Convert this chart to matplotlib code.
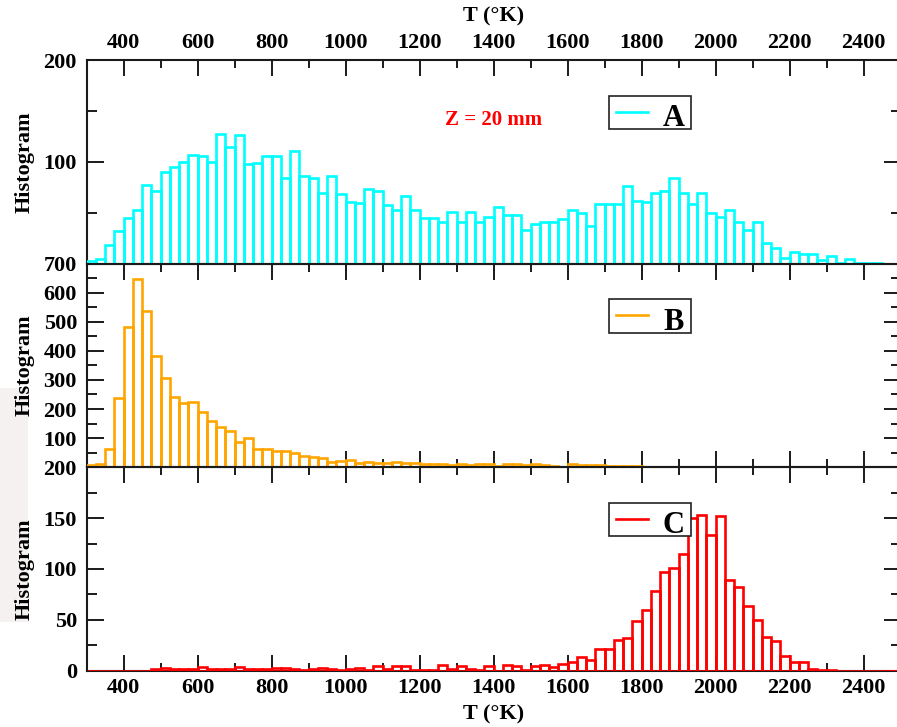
import numpy as np
import matplotlib
matplotlib.use("Agg")
import matplotlib.pyplot as plt
from matplotlib.ticker import MultipleLocator
from matplotlib.patches import Rectangle
from matplotlib.lines import Line2D

# Temperature bins (left edges, K), bin width 25 K
bin_width = 25
bin_left = np.arange(300, 2500, bin_width)

hist_a = [3, 5, 18, 32, 45, 53, 77, 71, 90, 95,
          100, 107, 106, 100, 127, 115, 126, 98, 99, 106,
          106, 84, 111, 86, 84, 69, 86, 68, 61, 60,
          73, 71, 58, 53, 66, 53, 45, 45, 41, 51,
          41, 51, 41, 46, 56, 48, 48, 33, 39, 41,
          41, 44, 53, 50, 37, 59, 59, 59, 76, 62,
          61, 69, 71, 84, 69, 59, 69, 50, 46, 53,
          41, 33, 41, 20, 15, 6, 11, 9, 9, 4,
          7, 1, 5, 1, 1, 1, 0, 0]

hist_b = [8, 10, 63, 239, 483, 648, 537, 381, 305, 241,
          222, 225, 191, 160, 137, 123, 85, 100, 63, 62,
          55, 57, 48, 39, 35, 31, 19, 22, 25, 16,
          18, 16, 16, 19, 14, 14, 10, 10, 10, 8,
          10, 6, 12, 12, 5, 12, 12, 6, 12, 6,
          3, 2, 12, 8, 8, 6, 3, 3, 3, 3,
          2, 1, 1, 1, 1, 1, 1, 0, 0, 0,
          0, 0, 0, 0, 0, 0, 0, 0, 0, 0,
          0, 0, 0, 0, 0, 0, 0, 0]

hist_c = [0, 0, 0, 0, 0, 0, 0, 2, 3, 2,
          2, 2, 4, 2, 2, 2, 4, 2, 2, 2,
          3, 3, 2, 1, 2, 3, 2, 1, 2, 3,
          1, 5, 2, 5, 5, 1, 1, 1, 6, 2,
          5, 2, 1, 5, 0, 6, 5, 1, 5, 6,
          4, 7, 9, 13, 11, 21, 21, 30, 32, 49,
          60, 78, 97, 101, 115, 150, 153, 133, 152, 89,
          82, 64, 50, 33, 29, 14, 9, 9, 2, 1,
          1, 0, 0, 0, 0, 0, 0, 0]

series_names = ["A", "B", "C"]
series_colors = ["#00FFFF", "#FFA500", "#FF0000"]
y_limits = [200, 700, 200]
y_major = [100, 100, 50]
y_minor = [50, 50, 25]

x_min, x_max = 300, 2500
annotation = "Z = 20 mm"
x_label = "T (°K)"
y_label = "Histogram"

plt.rcParams["font.family"] = ["Liberation Serif", "DejaVu Serif"]
plt.rcParams["font.weight"] = "bold"

W, H = 897, 727
fig = plt.figure(figsize=(W / 100, H / 100), dpi=100)

# faint grey strip along the left margin
fig.patches.append(Rectangle((0, 1 - 622 / H), 28 / W, (622 - 388) / H,
                             transform=fig.transFigure, facecolor="#f5f1f1",
                             edgecolor="none", zorder=0))

ax_left = 86.7 / W
ax_width = (900.7 - 86.7) / W
panel_h = 0.2800
bottoms = [0.6374, 0.3574, 0.0774]

spine_color = "#1a1a1a"
axes = []
for i, (vals, name, color) in enumerate(zip([hist_a, hist_b, hist_c],
                                            series_names, series_colors)):
    ax = fig.add_axes([ax_left, bottoms[i], ax_width, panel_h])
    axes.append(ax)
    ax.patch.set_alpha(0)
    ax.bar(bin_left, vals, width=bin_width, align="edge",
           facecolor="none", edgecolor=color, linewidth=1.9, zorder=3.5)
    ax.set_xlim(x_min, x_max)
    ax.set_ylim(0, y_limits[i])

    for sp in ax.spines.values():
        sp.set_linewidth(1.5)
        sp.set_color(spine_color)
        sp.set_zorder(3)

    ax.xaxis.set_major_locator(MultipleLocator(200))
    ax.xaxis.set_minor_locator(MultipleLocator(100))
    ax.yaxis.set_major_locator(MultipleLocator(y_major[i]))
    ax.yaxis.set_minor_locator(MultipleLocator(y_minor[i]))

    ax.tick_params(axis="both", which="both", direction="in",
                   top=True, right=True, bottom=True, left=True,
                   width=1.4, color=spine_color, labelsize=16)
    ax.tick_params(axis="x", which="major", length=11.5)
    ax.tick_params(axis="x", which="minor", length=5.8)
    ax.tick_params(axis="y", which="major", length=12, pad=7)
    ax.tick_params(axis="y", which="minor", length=7)

    yt = np.arange(0, y_limits[i] + 1, y_major[i])
    labels = [str(int(v)) for v in yt]
    if i < 2:
        labels[0] = ""
    ax.set_yticks(yt, labels)
    for lab in ax.get_yticklabels():
        lab.set_fontweight("bold")

    if i == 0:
        ax.tick_params(axis="x", which="both", bottom=False,
                       labelbottom=False, labeltop=True, pad=5)
    elif i == 1:
        ax.tick_params(axis="x", which="both", labelbottom=False)
    else:
        ax.tick_params(axis="x", which="both", labelbottom=True, pad=5)
    for lab in ax.get_xticklabels():
        lab.set_fontweight("bold")

    # legend box with line sample and series letter
    ax.add_patch(Rectangle((0.6417, 0.6595), 0.1004, 0.165,
                           transform=ax.transAxes, facecolor="white",
                           edgecolor="#222222", linewidth=1.2, zorder=4))
    ax.add_line(Line2D([0.650, 0.690], [0.7457, 0.7457],
                       transform=ax.transAxes, color=color,
                       linewidth=1.9, zorder=5))
    ax.text(0.7207, 0.675, name, transform=ax.transAxes, ha="center",
            va="baseline", fontsize=22, fontweight="bold", color="black",
            zorder=5)

    fig.text(25 / W, bottoms[i] + panel_h / 2, y_label, rotation=90,
             ha="center", va="center", fontsize=16, fontweight="bold")

axes[0].text(0.5, 0.680, annotation, transform=axes[0].transAxes,
             ha="center", va="baseline", fontsize=15, fontweight="bold",
             color="#FF0000")

fig.text(494 / W, 1 - 16 / H, x_label, ha="center", va="center",
         fontsize=16, fontweight="bold")
fig.text(494 / W, 1 - 714 / H, x_label, ha="center", va="center",
         fontsize=16, fontweight="bold")

fig.savefig("out.png", dpi=100)
